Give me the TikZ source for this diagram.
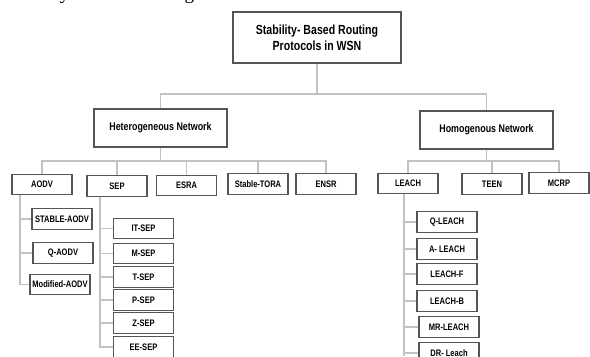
\documentclass[tikz,border=0pt]{standalone}
\usepackage{fontspec}
\setmainfont{Liberation Sans}[FakeStretch=0.8]
\newfontfamily\serifrm{Liberation Serif}
\usetikzlibrary{positioning}
\definecolor{RandGrau}{RGB}{85,85,85}
\definecolor{LinienGrau}{RGB}{195,195,195}

\begin{document}
\begin{tikzpicture}[x=0.025cm, y=-0.025cm,
	Box/.style={draw=RandGrau, line width=0.9pt, fill=white, inner sep=1pt, align=center, font=\bfseries\fontsize{6.7}{7.5}\selectfont, minimum width=1.5cm, minimum height=0.51cm},
	NetBox/.style={Box, font=\bfseries\fontsize{7.9}{9}\selectfont, minimum width=3.325cm, minimum height=0.95cm},
	TopBox/.style={Box, font=\bfseries\fontsize{9.4}{11.5}\selectfont, minimum width=4.2cm, minimum height=1.275cm},
	Line/.style={draw=LinienGrau, line width=0.8pt}]
				\useasboundingbox (0,0) rectangle (590,356);
				\clip (0,0) rectangle (590,356);
				% cut off line of the text above the figure
				\node[anchor=base west, inner sep=0pt, font=\serifrm\fontsize{13.6}{16}\selectfont] (txt) at (17,-1) {widely used for homogeneous WSNs.};
				% bus lines and rails
				\coordinate (bus) at (0,94);
				\coordinate (hetbus) at (0,161);
				\coordinate (aodvrail) at (20,0);
				\coordinate (seprail) at (100,0);
				\coordinate (leachrail) at (404,0);
				% root and the two networks
				\node[TopBox] (top) at (317,37.5) {Stability- Based Routing\\Protocols in WSN};
				\node[NetBox] (het) at (160.5,128) {Heterogeneous Network};
				\node[NetBox] (hom) at (486.5,130) {Homogenous Network};
				% heterogeneous protocols
				\node[Box] (aodv) at (42,184.5) {AODV};
				\node[Box] (sep) at (117,186) {SEP};
				\node[Box] (esra) at (186.5,185.5) {ESRA};
				\node[Box] (stora) at (258,184) {Stable-TORA};
				\node[Box] (ensr) at (326,184) {ENSR};
				% homogenous protocols
				\node[Box] (leach) at (408,183.5) {LEACH};
				\node[Box] (teen) at (492,184) {TEEN};
				\node[Box] (mcrp) at (559,183) {MCRP};
				% AODV variants
				\node[Box] (staodv) at (62,219) {STABLE-AODV};
				\node[Box] (qaodv) at (63,253) {Q-AODV};
				\node[Box] (modaodv) at (60,284.5) {Modified-AODV};
				% SEP variants
				\node[Box] (itsep) at (143.5,228.5) {IT-SEP};
				\node[Box] (msep) at (143.5,253.5) {M-SEP};
				\node[Box] (tsep) at (143.5,277) {T-SEP};
				\node[Box] (psep) at (143.5,300) {P-SEP};
				\node[Box] (zsep) at (143.5,323) {Z-SEP};
				\node[Box] (eesep) at (143.5,347) {EE-SEP};
				% LEACH variants
				\node[Box] (qleach) at (447,222) {Q-LEACH};
				\node[Box] (aleach) at (447,249) {A- LEACH};
				\node[Box] (leachf) at (447,274) {LEACH-F};
				\node[Box] (leachb) at (447,301) {LEACH-B};
				\node[Box] (mrleach) at (449,327) {MR-LEACH};
				\node[Box] (drleach) at (449,353) {DR- Leach};
				% connectors
				\draw[Line] (top.south) -- (top.south |- bus);
				\draw[Line] (het.north) |- (top.south |- bus) -| (hom.north);
				\draw[Line] (het.south) -- (het.south |- hetbus);
				\foreach \n in {aodv,sep,esra,stora,ensr}
					\draw[Line] (\n.north) |- (het.south |- hetbus);
				\draw[Line] (hom.south) -- (hom.south |- hetbus);
				\foreach \n in {leach,teen,mcrp}
					\draw[Line] (\n.north) |- (hom.south |- hetbus);
				\draw[Line] (aodv.south -| aodvrail) |- (modaodv.west);
				\foreach \n in {staodv,qaodv}
					\draw[Line] (\n.west -| aodvrail) -- (\n.west);
				\draw[Line] (sep.south -| seprail) |- (eesep.west);
				\foreach \n in {itsep,msep,tsep,psep,zsep}
					\draw[Line] (\n.west -| seprail) -- (\n.west);
				\draw[Line] (leach.south -| leachrail) -- (leachrail |- 0,356);
				\foreach \n in {qleach,aleach,leachf,leachb,mrleach,drleach}
					\draw[Line] (\n.west -| leachrail) -- (\n.west);
			\end{tikzpicture}
\end{document}
